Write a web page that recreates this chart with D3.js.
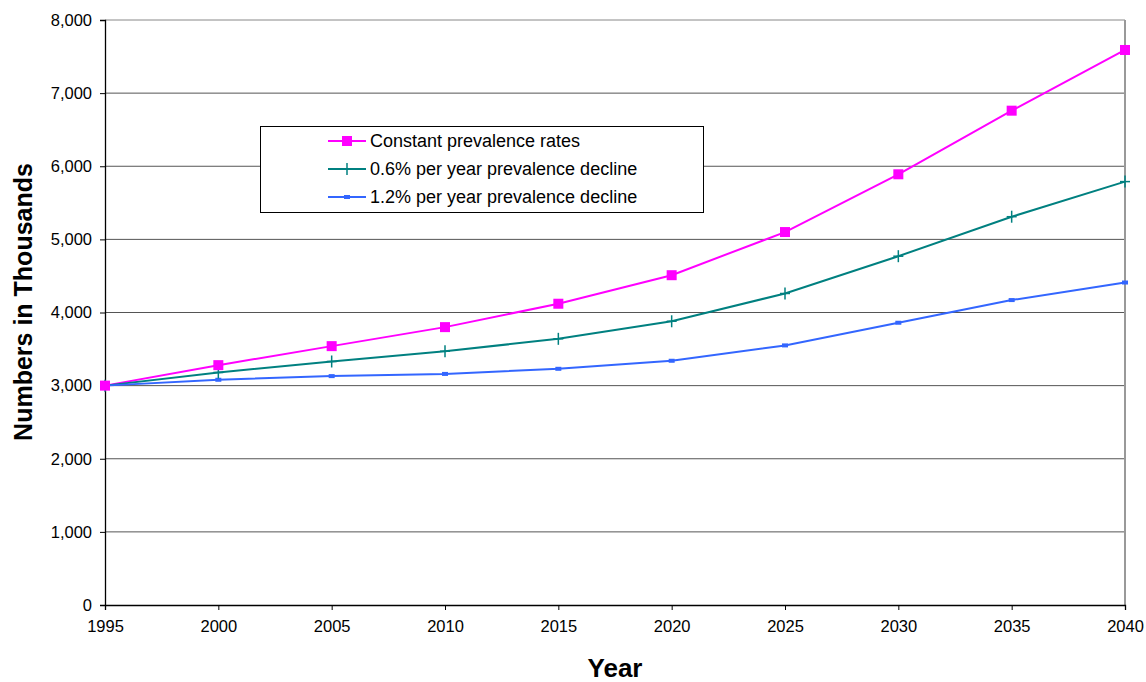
<!doctype html>
<html>
<head>
<meta charset="utf-8">
<title>Projected numbers</title>
<style>
  body { margin: 0; padding: 0; background: #fff; }
  text { font-family: Arial, "Liberation Sans", sans-serif; fill: #000; }
</style>
</head>
<body>
<svg id="chart" width="1146" height="682"></svg>
<script src="https://d3js.org/d3.v7.min.js"></script>
<script>
    var years = [1995, 2000, 2005, 2010, 2015, 2020, 2025, 2030, 2035, 2040];
    var constantRates = [3000, 3280, 3540, 3800, 4120, 4510, 5100, 5890, 6760, 7590];
    var decline06 = [3000, 3180, 3330, 3470, 3640, 3880, 4260, 4770, 5310, 5790];
    var decline12 = [3000, 3080, 3130, 3160, 3230, 3340, 3550, 3860, 4170, 4410];
    var seriesNames = ["Constant prevalence rates", "0.6% per year prevalence decline", "1.2% per year prevalence decline"];
    var yTicks = [0, 1000, 2000, 3000, 4000, 5000, 6000, 7000, 8000];

    var margin = {top: 20, right: 21, bottom: 77, left: 105},
        width = 1146 - margin.left - margin.right,
        height = 682 - margin.top - margin.bottom;

    var svg = d3.select("#chart")
        .append("g")
        .attr("transform", "translate(" + margin.left + "," + margin.top + ")");

    var x = d3.scaleLinear().domain([1995, 2040]).range([0, width]);
    var y = d3.scaleLinear().domain([0, 8000]).range([height, 0]);

    // gridlines
    svg.selectAll(".grid")
        .data(yTicks.filter(function(d) { return d > 0; }))
        .enter().append("line")
        .attr("x1", 0).attr("x2", width)
        .attr("y1", function(d) { return y(d); })
        .attr("y2", function(d) { return y(d); })
        .style("stroke", function(d) { return d === 8000 ? "#888" : "#555"; })
        .style("stroke-width", 1);

    // right border
    svg.append("line")
        .attr("x1", width).attr("x2", width)
        .attr("y1", 0).attr("y2", height)
        .style("stroke", "#999").style("stroke-width", 2);

    // y axis
    var yAxis = svg.append("g")
        .call(d3.axisLeft(y).tickValues(yTicks).tickSize(5).tickPadding(8)
            .tickFormat(d3.format(",")));
    yAxis.select(".domain").style("stroke", "#000").style("stroke-width", 1.3);
    yAxis.selectAll("text").style("font-size", "16.5px");

    // x axis
    var xAxis = svg.append("g")
        .attr("transform", "translate(0," + height + ")")
        .call(d3.axisBottom(x).tickValues(years).tickSize(5).tickPadding(10)
            .tickFormat(d3.format("d")));
    xAxis.select(".domain").style("stroke", "#000").style("stroke-width", 1.3);
    xAxis.selectAll("text").style("font-size", "16.5px");

    var line = d3.line()
        .x(function(d, i) { return x(years[i]); })
        .y(function(d) { return y(d); });

    var series = [
        {name: seriesNames[0], values: constantRates, color: "#ff00ff", marker: "square"},
        {name: seriesNames[1], values: decline06, color: "#008080", marker: "plus"},
        {name: seriesNames[2], values: decline12, color: "#3366ff", marker: "dash"}
    ];

    function drawMarker(g, type, color, cx, cy) {
        if (type === "square") {
            g.append("rect").attr("x", cx - 5).attr("y", cy - 5)
                .attr("width", 10).attr("height", 10).style("fill", color);
        } else if (type === "plus") {
            g.append("line").attr("x1", cx - 5).attr("x2", cx + 5).attr("y1", cy).attr("y2", cy)
                .style("stroke", color).style("stroke-width", 1.5);
            g.append("line").attr("x1", cx).attr("x2", cx).attr("y1", cy - 6).attr("y2", cy + 6)
                .style("stroke", color).style("stroke-width", 1.5);
        } else {
            g.append("rect").attr("x", cx - 3).attr("y", cy - 2)
                .attr("width", 6).attr("height", 4).style("fill", color);
        }
    }

    series.forEach(function(s) {
        svg.append("path")
            .datum(s.values)
            .attr("d", line)
            .style("fill", "none")
            .style("stroke", s.color)
            .style("stroke-width", 2);
    });
    series.slice().reverse().forEach(function(s) {
        var g = svg.append("g");
        s.values.forEach(function(v, i) {
            drawMarker(g, s.marker, s.color, x(years[i]), y(v));
        });
    });

    // legend
    var legend = d3.select("#chart").append("g")
        .attr("transform", "translate(260,126)");
    legend.append("rect")
        .attr("x", 0.5).attr("y", 0.5)
        .attr("width", 443).attr("height", 86)
        .style("fill", "#fff").style("stroke", "#000").style("stroke-width", 1);
    series.forEach(function(s, i) {
        var ly = 15 + i * 28;
        legend.append("line")
            .attr("x1", 68).attr("x2", 106).attr("y1", ly).attr("y2", ly)
            .style("stroke", s.color).style("stroke-width", 2);
        drawMarker(legend, s.marker, s.color, 87, ly);
        legend.append("text")
            .attr("x", 110).attr("y", ly + 6)
            .style("font-size", "18px")
            .text(s.name);
    });

    // axis titles
    d3.select("#chart").append("text")
        .attr("x", margin.left + width / 2)
        .attr("y", 677)
        .attr("text-anchor", "middle")
        .style("font-size", "26px")
        .style("font-weight", "bold")
        .text("Year");

    d3.select("#chart").append("text")
        .attr("transform", "translate(32,302) rotate(-90)")
        .attr("text-anchor", "middle")
        .style("font-size", "25px")
        .style("font-weight", "bold")
        .text("Numbers in Thousands");
</script>
</body>
</html>
